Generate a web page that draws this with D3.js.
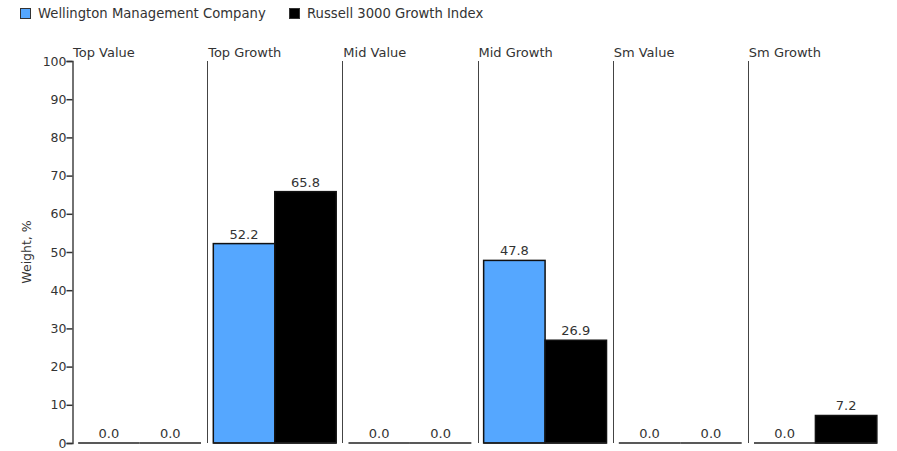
<!DOCTYPE html>
<html>
<head>
<meta charset="utf-8">
<script src="https://cdn.jsdelivr.net/npm/d3@7"></script>
<style>
  body { margin: 0; background: #fff; }
  text { font-family: "DejaVu Sans", Verdana, sans-serif; fill: #333; }
</style>
</head>
<body>
<script>
// chart data
var categories = ["Top Value", "Top Growth", "Mid Value", "Mid Growth", "Sm Value", "Sm Growth"];
var seriesNames = ["Wellington Management Company", "Russell 3000 Growth Index"];
var seriesColors = ["#55a7ff", "#000000"];
var wellington = [0.0, 52.2, 0.0, 47.8, 0.0, 0.0];
var russell = [0.0, 65.8, 0.0, 26.9, 0.0, 7.2];
var yTicks = [0, 10, 20, 30, 40, 50, 60, 70, 80, 90, 100];

var width = 897, height = 451;
var plotLeft = 72, plotRight = 883, plotTop = 61, plotBottom = 443;

var svg = d3.select("body").append("svg")
  .attr("width", width)
  .attr("height", height);

var x = d3.scaleBand().domain(categories).range([plotLeft, plotRight]).padding(0);
var xs = d3.scaleBand().domain([0, 1]).range([0, x.bandwidth()]).paddingInner(0).paddingOuter(0.1);
var y = d3.scaleLinear().domain([0, 100]).range([plotBottom, plotTop]);

// legend
var legend = svg.append("g");
var legendX = [20, 289];
seriesNames.forEach(function(name, i) {
  var g = legend.append("g").attr("transform", "translate(" + legendX[i] + ",8)");
  g.append("rect")
    .attr("x", 0.5).attr("y", 0.5)
    .attr("width", 10).attr("height", 10)
    .attr("fill", seriesColors[i])
    .attr("stroke", "#333").attr("stroke-width", 1);
  g.append("text")
    .attr("x", 18).attr("y", 10)
    .attr("font-size", 13.2)
    .text(name);
});

// panel separators
svg.append("g").selectAll("line")
  .data(categories.slice(1))
  .enter().append("line")
  .attr("x1", function(d) { return Math.round(x(d)) + 0.5; })
  .attr("x2", function(d) { return Math.round(x(d)) + 0.5; })
  .attr("y1", plotTop).attr("y2", plotBottom)
  .attr("stroke", "#444").attr("stroke-width", 1);

// panel titles
svg.append("g").selectAll("text")
  .data(categories)
  .enter().append("text")
  .attr("x", function(d) { return x(d) + 1; })
  .attr("y", 57)
  .attr("font-size", 13)
  .text(function(d) { return d; });

// y axis
var yAxis = d3.axisLeft(y).tickValues(yTicks).tickSize(6).tickPadding(0);
var ya = svg.append("g")
  .attr("transform", "translate(" + (plotLeft + 0.5) + ",0)")
  .call(yAxis);
ya.select(".domain").attr("stroke", "#444").attr("stroke-width", 1.5);
ya.selectAll(".tick line").attr("stroke", "#333").attr("stroke-width", 1.5);
ya.selectAll(".tick text").attr("font-size", 12.5).attr("font-family", "DejaVu Sans, Verdana, sans-serif").attr("fill", "#333");

svg.append("text")
  .attr("transform", "translate(31," + ((plotTop + plotBottom) / 2) + ") rotate(-90)")
  .attr("text-anchor", "middle")
  .attr("font-size", 12.5)
  .text("Weight, %");

// bars
var rows = categories.map(function(c, i) {
  return { cat: c, vals: [wellington[i], russell[i]] };
});
var groups = svg.append("g").selectAll("g")
  .data(rows)
  .enter().append("g")
  .attr("transform", function(d) { return "translate(" + x(d.cat) + ",0)"; });

groups.selectAll("rect")
  .data(function(d) { return d.vals; })
  .enter().append("rect")
  .attr("x", function(d, i) { return xs(i); })
  .attr("width", xs.bandwidth())
  .attr("y", function(d) { return y(d); })
  .attr("height", function(d) { return y(0) - y(d); })
  .attr("fill", function(d, i) { return seriesColors[i]; })
  .attr("stroke", "#111")
  .attr("stroke-width", 1.5);

// bar baselines (visible for zero-height bars)
groups.selectAll("line.base")
  .data(function(d) { return d.vals; })
  .enter().append("line")
  .attr("class", "base")
  .attr("x1", function(d, i) { return xs(i); })
  .attr("x2", function(d, i) { return xs(i) + xs.bandwidth(); })
  .attr("y1", y(0)).attr("y2", y(0))
  .attr("stroke", "#222")
  .attr("stroke-width", 1.5);

groups.selectAll("text")
  .data(function(d) { return d.vals; })
  .enter().append("text")
  .attr("x", function(d, i) { return xs(i) + xs.bandwidth() / 2; })
  .attr("y", function(d) { return y(d) - 5; })
  .attr("text-anchor", "middle")
  .attr("font-size", 13)
  .text(function(d) { return d.toFixed(1); });
</script>
</body>
</html>
